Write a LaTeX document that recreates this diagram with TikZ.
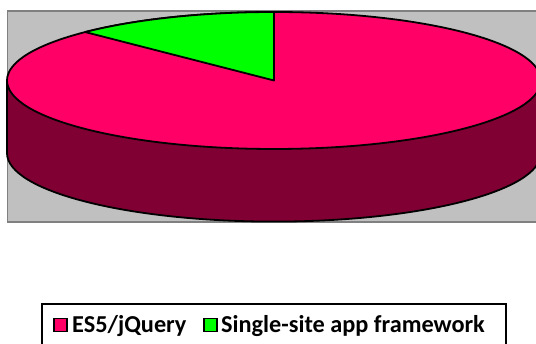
\documentclass[tikz,border=0pt]{standalone}
\usepackage{fontspec}
\setmainfont{Carlito}
\definecolor{plotgray}{RGB}{192,192,192}
\definecolor{framegray}{RGB}{128,128,128}
\definecolor{pinkslice}{RGB}{255,0,102}
\definecolor{darkside}{RGB}{128,0,51}
\definecolor{greenslice}{RGB}{0,255,0}
\tikzset{
  outline/.style={draw=black,line width=1.8pt,line join=round},
  legtext/.style={font=\bfseries\fontsize{24.3}{28}\selectfont,inner sep=0pt,anchor=base west},
  legmark/.style={draw=black,line width=1.5pt,minimum size=13pt,inner sep=0pt,anchor=south west}
}
\begin{document}
\begin{tikzpicture}[x=1pt,y=1pt]
\useasboundingbox (0,0) rectangle (536,344);
\fill[white] (0,0) rectangle (536,344);
% plot area
\draw[fill=plotgray,draw=framegray,line width=1.5pt] (7.5,122) rectangle (548,333);
% side of pie
\coordinate (c) at (274,263.5);
\coordinate (cb) at (274,190.9);
\fill[darkside] (7,263.5) -- (7,190.9)
   arc[start angle=180,end angle=360,x radius=267,y radius=68.5]
   -- (541,263.5)
   arc[start angle=360,end angle=180,x radius=267,y radius=68.5] -- cycle;
\draw[outline] (7,263.5) -- (7,190.9)
   arc[start angle=180,end angle=360,x radius=267,y radius=68.5]
   -- (541,263.5);
% top
\draw[outline,fill=pinkslice] (c) ellipse[x radius=267,y radius=68.5];
\draw[outline,fill=greenslice] (c) -- ++(0,68.5)
   arc[start angle=90,end angle=135,x radius=267,y radius=68.5] -- cycle;
% legend
\draw[black,line width=1.5pt] (42,-5) rectangle (506,40);
\node[legmark,fill=pinkslice] (m1) at (53,11.5) {};
\node[legtext] (t1) at (72,11) {ES5/jQuery};
\node[legmark,fill=greenslice] (m2) at (203,11.5) {};
\node[legtext] (t2) at (221,11) {Single-site app framework};
\end{tikzpicture}
\end{document}
